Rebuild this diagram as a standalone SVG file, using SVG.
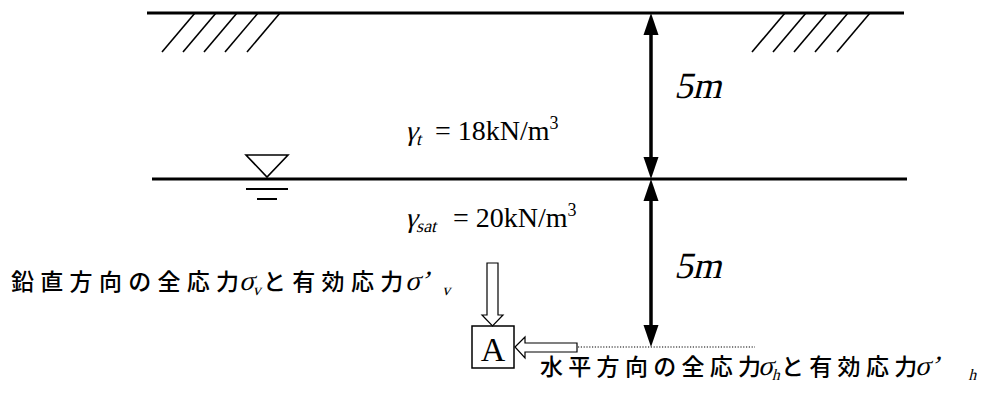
<svg xmlns="http://www.w3.org/2000/svg" width="986" height="410" viewBox="0 0 986 410">
<defs>
<style>
.ground{stroke:#000;stroke-width:3;fill:none}
.hatch{stroke:#000;stroke-width:1.6;fill:none}
.dim{stroke:#000;stroke-width:3.5;fill:none}
.head{fill:#000;stroke:none}
.hollow{fill:#fff;stroke:#000;stroke-width:1.2}
.serif{font-family:"Liberation Serif","Times New Roman",serif;fill:#000}
.jp{font-family:"Noto Sans CJK JP","Noto Sans",sans-serif;font-size:23px;font-weight:500;fill:#000}
.ls1{letter-spacing:5.3px}
.ls2{letter-spacing:6.3px}
</style>
</defs>
<rect width="986" height="410" fill="#fff"/>
<g id="ground-surface">
<line class="ground" x1="147" y1="13" x2="904" y2="13"/>
<g class="hatch">
<line x1="162" y1="52" x2="195" y2="13"/><line x1="183" y1="52" x2="216" y2="13"/><line x1="204" y1="52" x2="237" y2="13"/><line x1="225" y1="52" x2="258" y2="13"/><line x1="247" y1="52" x2="280" y2="13"/>
<line x1="752" y1="52" x2="785" y2="13"/><line x1="773" y1="52" x2="806" y2="13"/><line x1="794" y1="52" x2="827" y2="13"/><line x1="815" y1="52" x2="848" y2="13"/><line x1="837" y1="52" x2="870" y2="13"/>
</g>
</g>
<g id="water-table">
<line class="ground" x1="152" y1="179" x2="907" y2="179"/>
<polygon points="246,155 288,155 267,177" fill="none" stroke="#000" stroke-width="1.6"/>
<line x1="246" y1="189" x2="288" y2="189" stroke="#000" stroke-width="2"/>
<line x1="257" y1="199" x2="277" y2="199" stroke="#000" stroke-width="2"/>
</g>
<g id="layer1-label">
<text class="serif" transform="translate(405,140) skewX(-14)" font-size="28">γ<tspan font-size="18" dy="5">t</tspan></text>
<text class="serif" x="435" y="140" font-size="28">= 18kN/m<tspan font-size="18" dy="-11">3</tspan></text>
</g>
<g id="layer2-label">
<text class="serif" transform="translate(405,227) skewX(-14)" font-size="28">γ<tspan font-size="18" dy="5">sat</tspan></text>
<text class="serif" x="453" y="227" font-size="28">= 20kN/m<tspan font-size="18" dy="-11">3</tspan></text>
</g>
<g id="point-A">
<rect x="472" y="326" width="42" height="42" fill="#fff" stroke="#000" stroke-width="1.5"/>
<text class="serif" x="493" y="361" font-size="34" text-anchor="middle">A</text>
</g>
<g id="label-vertical">
<text class="jp ls2" x="11" y="290">鉛直方向の全応力</text>
<text class="serif" transform="translate(239,290) skewX(-14)" font-size="28">σ<tspan font-size="16" dy="5">v</tspan></text>
<text class="jp ls2" x="263" y="290">と有効応力</text>
<text class="serif" transform="translate(405,290) skewX(-14)" font-size="28">σ’<tspan font-size="16" dx="14" dy="5">v</tspan></text>
</g>
<g id="label-horizontal">
<text class="jp ls1" x="540" y="375">水平方向の全応力</text>
<text class="serif" transform="translate(758,375) skewX(-14)" font-size="28">σ<tspan font-size="16" dy="5">h</tspan></text>
<text class="jp ls1" x="781" y="375">と有効応力</text>
<text class="serif" transform="translate(915,375) skewX(-14)" font-size="28">σ’<tspan font-size="16" dx="30" dy="5">h</tspan></text>
</g>
<g id="dim-labels">
<text class="serif" transform="translate(674,98) skewX(-14)" font-size="37">5m</text>
<text class="serif" transform="translate(674,278) skewX(-14)" font-size="37">5m</text>
</g>
<g id="connectors">
<line class="dim" x1="651" y1="32" x2="651" y2="159"/>
<polygon class="head" points="651,13 643.5,35 658.5,35"/>
<polygon class="head" points="651,179 643.5,157 658.5,157"/>
<line class="dim" x1="651" y1="198" x2="651" y2="328"/>
<polygon class="head" points="651,179 643.5,201 658.5,201"/>
<polygon class="head" points="651,347 643.5,325 658.5,325"/>
<polygon class="hollow" points="487,263 498,263 498,315 503,315 492.5,326 482,315 487,315"/>
<polygon class="hollow" points="515,347 525,337 525,343 577,343 577,352 525,352 525,358"/>
<line x1="578" y1="347" x2="755" y2="347" stroke="#000" stroke-width="1.2" stroke-dasharray="1.2,1.6"/>
</g>
</svg>
